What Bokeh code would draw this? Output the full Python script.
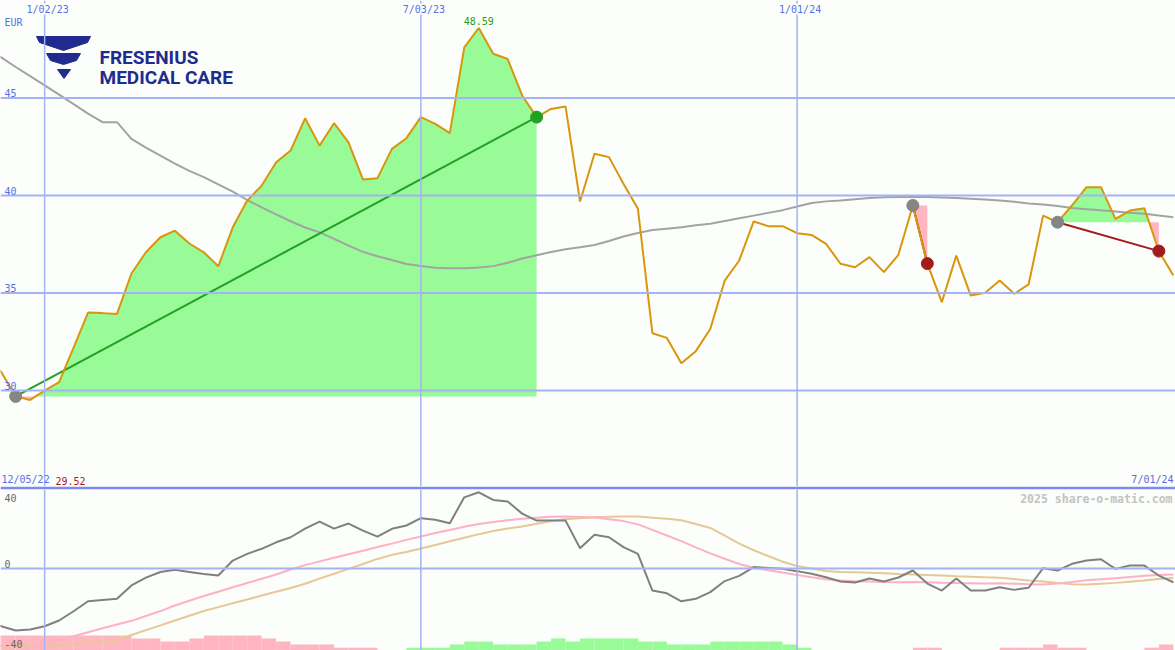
import numpy as np
import pandas as pd
from bokeh.plotting import figure
from bokeh.layouts import column
from bokeh.models import Range1d, Span, Label
from bokeh.embed import file_html
from bokeh.resources import INLINE

# ---------------- data ----------------
dates = pd.date_range("2022-12-05", periods=83, freq="7D")

price = [31.6, 30.95, 29.7, 29.52, 30.0, 30.43, 32.2, 34.0, 33.97, 33.93,
         36.0, 37.09, 37.86, 38.2, 37.54, 37.09, 36.37, 38.37, 39.74, 40.51,
         41.71, 42.31, 43.96, 42.56, 43.71, 42.73, 40.82, 40.89, 42.39, 42.94,
         44.02, 43.67, 43.2, 47.6, 48.59, 47.27, 47.0, 45.13, 44.02, 44.44,
         44.56, 39.69, 42.14, 41.97, 40.6, 39.32, 32.94, 32.7, 31.4, 32.02,
         33.16, 35.64, 36.67, 38.67, 38.43, 38.43, 38.07, 37.98, 37.52, 36.5,
         36.32, 36.84, 36.07, 36.96, 39.49, 36.51, 34.53, 36.92, 34.87, 35.01,
         35.64, 34.96, 35.44, 38.97, 38.63, 39.5, 40.43, 40.43, 38.8, 39.23,
         39.35, 37.15, 35.9]

ma = [47.55, 47.08, 46.59, 46.12, 45.65, 45.17, 44.69, 44.2, 43.76, 43.76,
      42.9, 42.46, 42.05, 41.64, 41.26, 40.94, 40.57, 40.2, 39.77, 39.39,
      39.03, 38.68, 38.36, 38.11, 37.78, 37.43, 37.11, 36.89, 36.69, 36.49,
      36.39, 36.3, 36.27, 36.27, 36.31, 36.38, 36.55, 36.77, 36.94, 37.1,
      37.25, 37.35, 37.46, 37.67, 37.9, 38.08, 38.23, 38.3, 38.37, 38.47,
      38.55, 38.69, 38.83, 38.97, 39.11, 39.25, 39.44, 39.62, 39.7, 39.75,
      39.81, 39.87, 39.91, 39.93, 39.94, 39.93, 39.9, 39.87, 39.83, 39.79,
      39.75, 39.68, 39.59, 39.54, 39.46, 39.36, 39.3, 39.24, 39.18, 39.12,
      39.06, 38.97, 38.89]

osc = [-33.1, -35.4, -38.0, -37.4, -35.4, -31.9, -26.2, -20.1, -19.3, -18.6,
       -10.4, -5.6, -2.1, -0.8, -2.1, -3.4, -4.3, 4.9, 9.0, 12.1,
       16.1, 19.2, 24.5, 28.8, 24.5, 27.6, 23.3, 19.6, 24.4, 26.4,
       30.9, 29.9, 27.8, 43.7, 46.8, 42.1, 41.1, 33.7, 29.4, 29.4,
       29.4, 12.5, 20.7, 19.2, 13.1, 9.0, -13.5, -15.2, -20.1, -18.6,
       -14.5, -7.7, -4.5, 0.9, 0.4, -0.1, -1.6, -3.2, -5.3, -8.0,
       -8.6, -6.1, -8.0, -5.5, -1.2, -9.2, -13.5, -6.1, -13.5, -13.5,
       -11.5, -13.1, -11.8, 0.2, -1.2, 2.9, 4.9, 5.7, -0.2, 1.8,
       1.8, -4.3, -8.4]

sig_fast = [-56.0, -54.0, -51.5, -49.0, -46.6, -43.9, -41.5, -39.1, -36.7, -34.4,
            -32.1, -29.1, -26.1, -22.7, -19.8, -16.9, -14.2, -11.5, -8.9, -6.3,
            -3.7, -0.6, 2.1, 4.4, 6.6, 8.8, 10.9, 13.2, 15.3, 17.6,
            19.6, 21.8, 23.7, 25.6, 27.3, 28.5, 29.6, 30.6, 31.2, 31.8,
            32.0, 31.7, 31.3, 30.2, 29.1, 27.1, 23.7, 20.3, 16.8, 13.0,
            9.3, 6.0, 2.8, 0.5, -1.0, -2.5, -3.9, -5.3, -6.6, -7.3,
            -7.8, -8.0, -8.3, -8.4, -8.2, -8.4, -8.7, -8.9, -9.0, -9.2,
            -9.0, -9.3, -9.6, -9.8, -9.2, -8.3, -7.2, -6.6, -6.0, -5.2,
            -4.4, -4.0, -3.7]

sig_slow = [-47.4, -47.4, -47.4, -47.4, -47.4, -46.8, -46.2, -45.4, -44.7, -43.7,
            -40.8, -37.8, -34.9, -31.9, -29.0, -26.1, -23.7, -21.3, -19.0, -16.6,
            -14.2, -11.9, -9.3, -6.2, -3.2, -0.2, 2.8, 5.9, 8.4, 10.1,
            12.3, 14.5, 16.7, 18.9, 21.1, 23.0, 24.5, 25.8, 27.5, 29.1,
            30.3, 30.9, 31.5, 31.8, 32.0, 31.9, 31.2, 30.5, 29.6, 27.3,
            24.9, 20.2, 15.3, 11.2, 7.7, 4.2, 1.6, 0.0, -1.5, -2.1,
            -2.3, -2.6, -2.9, -3.3, -3.6, -4.0, -4.3, -4.7, -5.0, -5.4,
            -5.7, -6.4, -7.3, -8.0, -8.8, -9.6, -9.8, -9.3, -8.8, -8.1,
            -7.3, -6.4, -5.8]

hist = [-9.2, -9.2, -9.2, -9.2, -9.2, -9.2, -9.2, -9.2, -9.2, -9.2,
        -7.4, -7.4, -5.5, -5.5, -7.4, -9.2, -9.2, -9.2, -9.2, -7.4,
        -5.5, -3.7, -3.7, -3.7, -1.7, -1.7, -1.7, 0.0, 0.0,
        1.7, 1.7, 1.7, 3.7, 5.5, 5.5, 3.7, 3.7, 3.7, 5.5,
        7.4, 5.5, 7.4, 7.4, 7.4, 7.4, 5.5, 5.5, 3.7, 3.7,
        3.7, 5.5, 5.5, 5.5, 5.5, 5.5, 3.7, 1.7,
        0.0, 0.0, 0.0, 0.0, 0.0, 0.0, 0.0, -1.7, -1.7, 0.0,
        0.0, 0.0, 0.0, -1.7, -1.7, -1.7, -3.7, -1.7, -1.7, 0.0,
        0.0, 0.0, 0.0, -1.7, -3.7, 0.0]

# signal events: (start index, end index) into dates
events = [(2, 38), (64, 65), (74, 81)]

grid_dates = ["2023-01-02", "2023-07-03", "2024-01-01"]
grid_labels = ["1/02/23", "7/03/23", "1/01/24"]
end_label = "7/01/24"
start_label = "12/05/22"
price_levels = [30, 35, 40, 45]
osc_levels = [40, 0, -40]

# ---------------- styling ----------------
BG = "#fbfefb"
GRID = "#a3b3f3"
DIVIDER = "#7b8cee"
LBL = "#5a6ee6"
ORANGE = "#d9960c"
MA_C = "#a3a3a3"
GREEN_F = "#98fb98"
PINK_F = "#ffb6c1"
GREEN_L = "#22a022"
RED_L = "#a31c1c"
DOT_G = "#858585"
MONO = "DejaVu Sans Mono"

origin = pd.Timestamp("2023-01-02")


def wk(d):
    return (pd.Timestamp(d) - origin).days / 7.0


x = np.array([wk(d) for d in dates])
price = np.array(price)
X0, X1 = -3.05, 78.15
Y0, Y1 = 25.08, 50.0
W = 1175
H_UP = 486
H_LO = 164

p = figure(width=W, height=H_UP, x_range=Range1d(X0, X1), y_range=Range1d(Y0, Y1),
           output_backend="svg", toolbar_location=None, min_border=0,
           x_axis_location=None, y_axis_location=None,
           background_fill_color=BG, border_fill_color=BG, outline_line_color=None)
p.grid.visible = False

for lv in price_levels:
    p.add_layout(Span(location=lv, dimension="width", line_color=GRID, line_width=2))
for d in grid_dates:
    p.add_layout(Span(location=wk(d), dimension="height", line_color=GRID, line_width=1.5))


def px2x(px):
    return X0 + px / 1175.0 * (X1 - X0)


def py2y(py):
    return Y1 - py / 486.0 * (Y1 - Y0)


# logo (decoration)
p.quad(left=px2x(33), right=px2x(238), top=py2y(32), bottom=py2y(80), color=BG)
NAVY = "#1f2b8e"
chev_x = [[px2x(v) for v in (36, 90, 87, 63, 39)],
          [px2x(v) for v in (46, 80, 76, 63, 50)],
          [px2x(v) for v in (57, 70, 63.5)]]
chev_y = [[py2y(v) for v in (36, 36, 42, 50, 42)],
          [py2y(v) for v in (53, 53, 60, 64, 60)],
          [py2y(v) for v in (69, 69, 78)]]
p.patches(chev_x, chev_y, color=NAVY)
p.add_layout(Label(x=px2x(99), y=py2y(56.8), text="FRESENIUS", text_font="Roboto",
                   text_font_style="bold", text_font_size="19px", text_color=NAVY,
                   text_baseline="alphabetic"))
p.add_layout(Label(x=px2x(99), y=py2y(77.3), text="MEDICAL CARE", text_font="Roboto",
                   text_font_style="bold", text_font_size="19px", text_color=NAVY,
                   text_baseline="alphabetic"))

# signal fills
for i0, i1 in events:
    base = price[i0]
    xs, ys = [x[i0]], [price[i0]]
    for i in range(i0, i1):
        xa, ya, xb, yb = x[i], price[i], x[i + 1], price[i + 1]
        if (ya - base) * (yb - base) < 0:
            t = (base - ya) / (yb - ya)
            xs.append(xa + t * (xb - xa))
            ys.append(base)
        xs.append(xb)
        ys.append(yb)
    xs = np.array(xs)
    ys = np.array(ys)
    bl = np.full(len(xs), base)
    p.varea(x=xs, y1=bl, y2=np.maximum(ys, bl), color=GREEN_F)
    p.varea(x=xs, y1=bl, y2=np.minimum(ys, bl), color=PINK_F)

p.line(x, ma, color=MA_C, line_width=2)

for i0, i1 in events:
    col = GREEN_L if price[i1] > price[i0] else RED_L
    p.line([x[i0], x[i1]], [price[i0], price[i1]], color=col, line_width=2)

p.line(x, price, color=ORANGE, line_width=2)

for i0, i1 in events:
    col = GREEN_L if price[i1] > price[i0] else RED_L
    p.scatter([x[i0]], [price[i0]], size=12, color=DOT_G)
    p.scatter([x[i1]], [price[i1]], size=12, color=col)

# texts upper
for d, t in zip(grid_dates, grid_labels):
    p.add_layout(Label(x=wk(d), y=Y1, text=t, text_align="center", text_baseline="top",
                       x_offset=3, y_offset=-3, text_color=LBL, text_font=MONO,
                       text_font_size="10px", background_fill_color=BG))
p.add_layout(Label(x=X0, y=Y1, text="EUR", x_offset=4, y_offset=-16, text_baseline="top",
                   text_color=LBL, text_font=MONO, text_font_size="10px"))
for lv in price_levels:
    p.add_layout(Label(x=X0, y=lv, text=str(lv), x_offset=4, y_offset=1,
                       text_baseline="bottom", text_color=LBL, text_font=MONO,
                       text_font_size="10px"))
imax = int(np.argmax(price))
imin = int(np.argmin(price))
p.add_layout(Label(x=x[imax], y=price[imax], text=f"{price[imax]:.2f}", text_align="center",
                   text_baseline="bottom", y_offset=3, text_color=GREEN_L, text_font=MONO,
                   text_font_size="10px"))
p.add_layout(Label(x=X0, y=Y0, text=start_label, x_offset=1, y_offset=2,
                   text_baseline="bottom", text_color=LBL, text_font=MONO, text_font_size="10px"))
p.add_layout(Label(x=X0, y=Y0, text=f"{price[imin]:.2f}", x_offset=55, y_offset=2,
                   text_baseline="bottom", text_color=RED_L, text_font=MONO, text_font_size="10px"))
p.add_layout(Label(x=X1, y=Y0, text=end_label, x_offset=-2, y_offset=2, text_align="right",
                   text_baseline="bottom", text_color=LBL, text_font=MONO, text_font_size="10px"))

# ---------------- lower panel ----------------
LY0, LY1 = -50.3, 48.5
q = figure(width=W, height=H_LO, x_range=p.x_range, y_range=Range1d(LY0, LY1),
           output_backend="svg", toolbar_location=None, min_border=0, min_border_top=3,
           x_axis_location=None, y_axis_location=None,
           background_fill_color=BG, border_fill_color=DIVIDER, outline_line_color=None)
q.grid.visible = False

hist = np.array(hist)
q.quad(left=x, right=x + 1, bottom=LY0, top=LY0 + np.abs(hist),
       color=[GREEN_F if h > 0 else PINK_F for h in hist], line_color=None)

q.add_layout(Span(location=0, dimension="width", line_color=GRID, line_width=2))
for d in grid_dates:
    q.add_layout(Span(location=wk(d), dimension="height", line_color=GRID, line_width=1.5))

q.line(x, sig_slow, color="#e6c896", line_width=2)
q.line(x, sig_fast, color="#ffb0c8", line_width=2)
q.line(x, osc, color="#808080", line_width=2)

for lv in osc_levels:
    if lv == osc_levels[-1]:
        q.add_layout(Label(x=X0, y=LY0, text=str(lv), x_offset=4, y_offset=3,
                           text_baseline="bottom", text_color="#666666", text_font=MONO,
                           text_font_size="10px"))
    else:
        q.add_layout(Label(x=X0, y=lv, text=str(lv), x_offset=4, y_offset=1,
                           text_baseline="bottom", text_color="#666666", text_font=MONO,
                           text_font_size="10px"))
q.add_layout(Label(x=X1, y=LY1, text="2025 share-o-matic.com", x_offset=-3, y_offset=-2,
                   text_align="right", text_baseline="top", text_color="#c3c3c3",
                   text_font=MONO, text_font_style="bold", text_font_size="11.5px"))

layout = column(p, q, spacing=0)
open("out.html", "w").write(file_html(layout, INLINE))
